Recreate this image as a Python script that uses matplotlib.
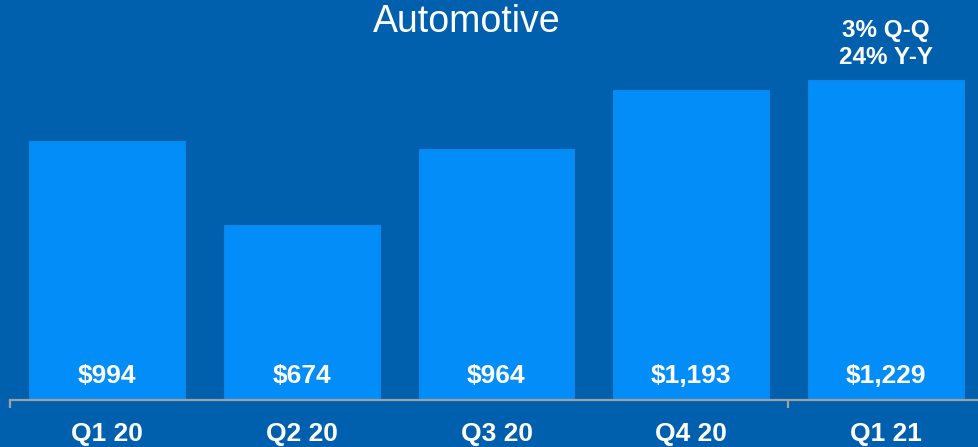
import matplotlib.pyplot as plt

quarters = ['Q1 20', 'Q2 20', 'Q3 20', 'Q4 20', 'Q1 21']
revenue = [994, 674, 964, 1193, 1229]
value_labels = ['$994', '$674', '$964', '$1,193', '$1,229']
growth_note = '3% Q-Q\n24% Y-Y'

bg = '#0060ae'
bar_color = '#028df8'

plt.rcParams['font.family'] = ['Liberation Sans', 'DejaVu Sans']

fig = plt.figure(figsize=(9.79, 4.47), dpi=100, facecolor=bg)
ax = fig.add_axes([10 / 979, 47 / 447, 973 / 979, 400 / 447])
ax.set_facecolor(bg)

x = list(range(len(quarters)))
ax.bar(x, revenue, width=0.8, color=bar_color, edgecolor='#1185e6', linewidth=0.8)

ax.set_xlim(-0.5, 4.5)
ax.set_ylim(0, 1537)

for i, lab in enumerate(value_labels):
    ax.annotate(lab, xy=(i, 0), xytext=(0, 17), textcoords='offset points',
                ha='center', va='center', color='white', fontsize=19, fontweight='bold')

ax.annotate(growth_note, xy=(4, revenue[4]), xytext=(0, 8), textcoords='offset points',
            ha='center', va='bottom', color='white', fontsize=17.5, fontweight='bold',
            linespacing=1.2)

for s in ['top', 'right', 'left']:
    ax.spines[s].set_visible(False)
ax.spines['bottom'].set_color('#a0a0a0')
ax.spines['bottom'].set_linewidth(1.6)

ax.set_yticks([])
ax.set_xticks([-0.5, 3.5])
ax.set_xticklabels(['', ''])
ax.tick_params(axis='x', which='major', direction='out', length=6, width=1.6, color='#a0a0a0')
ax.set_xticks(x, quarters, minor=True)
ax.tick_params(axis='x', which='minor', length=0, pad=16, labelsize=19, labelcolor='white')
for t in ax.get_xticklabels(minor=True):
    t.set_fontweight('bold')

fig.text(467 / 979, 1 - 22 / 447, 'Automotive', ha='center', va='center',
         color='white', fontsize=27)

fig.savefig('out.png', dpi=100, facecolor=bg)
